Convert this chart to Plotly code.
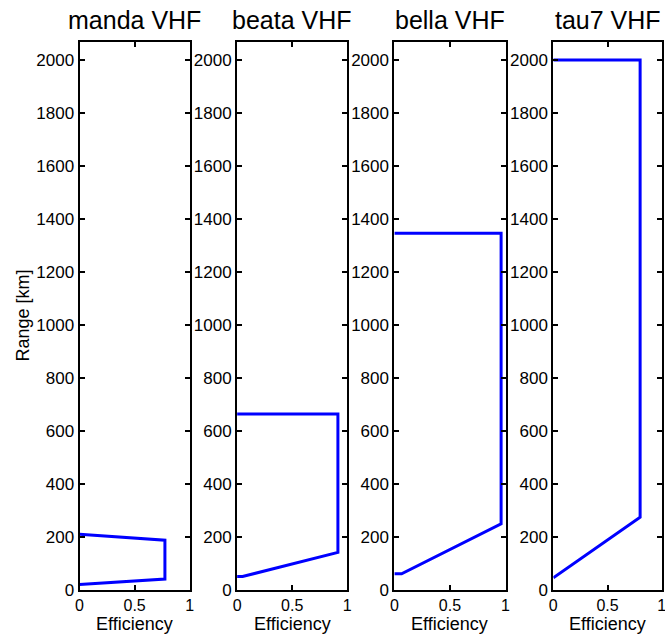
import plotly.graph_objects as go

# ---- data ----
titles = ["manda VHF", "beata VHF", "bella VHF", "tau7 VHF"]
manda_eff = [0, 0.775, 0.775, 0]
manda_range = [20, 40, 187, 209]
beata_eff = [0, 0.05, 0.915, 0.915, 0]
beata_range = [50, 50, 141, 663, 663]
bella_eff = [0, 0.065, 0.96, 0.96, 0]
bella_range = [60, 60, 249, 1346, 1346]
tau7_eff = [0, 0.80, 0.80, 0]
tau7_range = [45, 274, 2000, 2000]
y_ticks = list(range(0, 2001, 200))
x_ticks = [0, 0.5, 1]
x_ticklabels = ["0", "0.5", "1"]

series = [(manda_eff, manda_range), (beata_eff, beata_range),
          (bella_eff, bella_range), (tau7_eff, tau7_range)]

# capture appears scaled ~0.985 with a small x offset; lay out accordingly
S, OX = 0.985, 3.3
W, H = 675, 646


def lx(px):
    return (px - OX) / S


def ly(py):
    return py / S


panel_ref = [(78.7, 188.7), (236, 346), (393, 504), (551.7, 660)]
y_top_ref, y_bot_ref = 42, 590
ydom = [1 - ly(y_bot_ref) / H, 1 - ly(y_top_ref) / H]

FONT = "Liberation Sans, Arial, Helvetica, sans-serif"

fig = go.Figure()
annotations = []
for i, ((ex, rg), (x0, x1)) in enumerate(zip(series, panel_ref)):
    n = "" if i == 0 else str(i + 1)
    fig.add_trace(go.Scatter(x=ex, y=rg, mode="lines",
                             line=dict(color="#0000FF", width=3),
                             xaxis="x" + n, yaxis="y" + n, showlegend=False))
    xd = [lx(x0) / W, lx(x1) / W]
    fig.layout["xaxis" + n] = dict(
        domain=xd, range=[0, 1], tickvals=x_ticks, ticktext=x_ticklabels,
        ticks="inside", ticklen=5, tickwidth=1.5, tickcolor="black",
        showline=True, linecolor="black", linewidth=2, mirror="ticks",
        showgrid=False, zeroline=False, anchor="y" + n,
        tickfont=dict(family=FONT, size=16, color="black"),
    )
    fig.layout["yaxis" + n] = dict(
        domain=ydom, range=[0, 2068], tickvals=y_ticks,
        ticks="inside", ticklen=5, tickwidth=1.5, tickcolor="black",
        showline=True, linecolor="black", linewidth=2, mirror="ticks",
        showgrid=False, zeroline=False, anchor="x" + n,
        tickfont=dict(family=FONT, size=17, color="black"),
    )
    cx = lx((x0 + x1) / 2) / W
    annotations.append(dict(text=titles[i], x=cx, y=1 - ly(20) / H, xref="paper", yref="paper",
                            xanchor="center", yanchor="middle", showarrow=False,
                            font=dict(family=FONT, size=25, color="black")))
    annotations.append(dict(text="Efficiency", x=cx, y=1 - ly(624) / H, xref="paper", yref="paper",
                            xanchor="center", yanchor="middle", showarrow=False,
                            font=dict(family=FONT, size=18, color="black")))

annotations.append(dict(text="Range [km]", x=lx(22) / W, y=1 - ly(316) / H, xref="paper", yref="paper",
                        xanchor="center", yanchor="middle", showarrow=False, textangle=-90,
                        font=dict(family=FONT, size=18, color="black")))

fig.update_layout(
    width=W, height=H,
    margin=dict(l=0, r=0, t=0, b=0),
    paper_bgcolor="white", plot_bgcolor="white",
    annotations=annotations,
    font=dict(family=FONT, color="black"),
)

fig.write_html("out.html", config={"displayModeBar": False},
               post_script="document.body.style.margin='0';document.body.style.overflow='hidden';")
